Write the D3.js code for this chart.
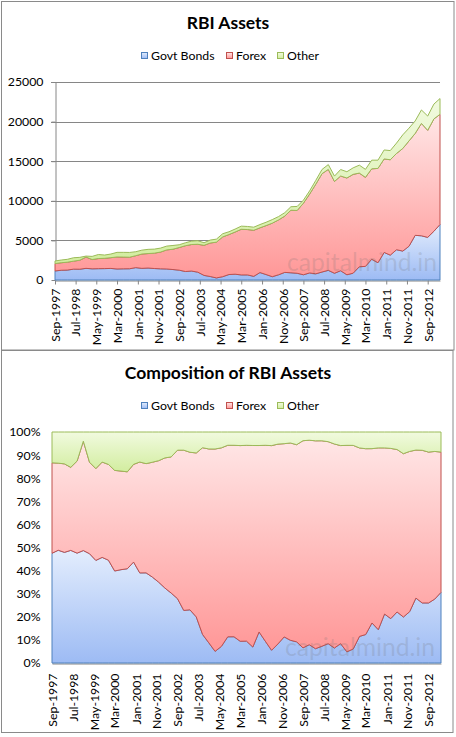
<!DOCTYPE html>
<html><head><meta charset="utf-8">
<script src="https://cdn.jsdelivr.net/npm/d3@7"></script>
<style>body{margin:0;background:#fff}svg{display:block}text{font-family:Lato,"Noto Sans",sans-serif}</style>
</head><body><svg id="c" width="456" height="737"></svg>
<script>
// ---------- DATA (quarterly, Rs billion) ----------
const quarters = ["Sep-1997","Dec-1997","Mar-1998","Jun-1998","Sep-1998","Dec-1998","Mar-1999","Jun-1999","Sep-1999","Dec-1999",
"Mar-2000","Jun-2000","Sep-2000","Dec-2000","Mar-2001","Jun-2001","Sep-2001","Dec-2001","Mar-2002","Jun-2002",
"Sep-2002","Dec-2002","Mar-2003","Jun-2003","Sep-2003","Dec-2003","Mar-2004","Jun-2004","Sep-2004","Dec-2004",
"Mar-2005","Jun-2005","Sep-2005","Dec-2005","Mar-2006","Jun-2006","Sep-2006","Dec-2006","Mar-2007","Jun-2007",
"Sep-2007","Dec-2007","Mar-2008","Jun-2008","Sep-2008","Dec-2008","Mar-2009","Jun-2009","Sep-2009","Dec-2009",
"Mar-2010","Jun-2010","Sep-2010","Dec-2010","Mar-2011","Jun-2011","Sep-2011","Dec-2011","Mar-2012","Jun-2012",
"Sep-2012","Dec-2012","Mar-2013"];
const govtBonds = [1140,1230,1250,1370,1360,1470,1410,1430,1440,1460,
1390,1410,1420,1560,1470,1510,1450,1410,1390,1320,
1240,1070,1130,990,580,440,260,420,690,730,
640,640,460,940,690,420,660,960,910,850,
660,890,780,1010,1220,850,1170,660,860,1670,
1720,2620,2180,3480,3140,3820,3650,4260,5640,5580,
5380,6150,7010];
const forex = [940,950,1000,1010,1140,1430,1180,1280,1300,1360,
1520,1490,1460,1510,1810,1830,1940,2120,2410,2570,
2860,3260,3350,3520,3800,4230,4520,5020,5050,5330,
5760,5730,5820,5650,6180,6760,6930,7110,7900,7930,
9040,9960,11320,12420,12740,11590,11960,12220,12480,11830,
11240,11420,11910,11810,12040,12160,12960,13300,12870,14190,
13520,14190,13910];
const other = [320,340,360,430,360,120,390,510,410,460,
580,590,600,500,490,530,510,500,480,470,
350,370,430,450,320,370,380,400,350,370,
400,390,390,410,420,450,420,430,440,510,
380,400,480,530,610,680,820,790,820,1000,
1010,1090,1040,1130,1160,1310,1720,1610,1570,1700,
1800,1870,1990];
const seriesNames = ["Govt Bonds","Forex","Other"];
const xTickLabels = ["Sep-1997","Jul-1998","May-1999","Mar-2000","Jan-2001","Nov-2001","Sep-2002","Jul-2003","May-2004","Mar-2005",
"Jan-2006","Nov-2006","Sep-2007","Jul-2008","May-2009","Mar-2010","Jan-2011","Nov-2011","Sep-2012"];
const yTicksTop = [0,5000,10000,15000,20000,25000];
const yTicksBottom = [0,0.1,0.2,0.3,0.4,0.5,0.6,0.7,0.8,0.9,1];

// ---------- SETUP ----------
const parse = d3.timeParse("%b-%Y");
const keys = ["govt","forex","other"];
const rows = quarters.map((q,i)=>({date:parse(q), govt:govtBonds[i], forex:forex[i], other:other[i]}));
const colors = {
  govt:{stroke:"#4f81bd", top:"#e3edfd", bot:"#9dbbf4"},
  forex:{stroke:"#c0504d", top:"#ffe6e6", bot:"#ff9797"},
  other:{stroke:"#9bbb59", top:"#f1fadf", bot:"#d2ed9f"}
};
const svg = d3.select("#c");
const defs = svg.append("defs");
keys.forEach(k=>{
  const g = defs.append("linearGradient").attr("id","grad-"+k).attr("x1",0).attr("y1",0).attr("x2",0).attr("y2",1);
  g.append("stop").attr("offset","0%").attr("stop-color",colors[k].top);
  g.append("stop").attr("offset","100%").attr("stop-color",colors[k].bot);
});

// chart frames
svg.append("rect").attr("x",1.5).attr("y",1.5).attr("width",452.5).attr("height",348.5).attr("fill","#fff").attr("stroke","#8a8a8a");
svg.append("rect").attr("x",1.5).attr("y",350.5).attr("width",451.5).attr("height",382).attr("fill","#fff").attr("stroke","#8a8a8a");

function legend(y){
  const lx = [141,226,277];
  keys.forEach((k,i)=>{
    svg.append("rect").attr("x",lx[i]+0.5).attr("y",y-3.5).attr("width",6).attr("height",6)
      .attr("fill","url(#grad-"+k+")").attr("stroke",colors[k].stroke);
    svg.append("text").attr("x",lx[i]+10).attr("y",y+4).attr("font-size",12.3).attr("fill","#000").text(seriesNames[i]);
  });
}
function title(t,y){
  svg.append("text").attr("x",228).attr("y",y).attr("text-anchor","middle").attr("font-size",17.5)
    .attr("font-weight","bold").attr("fill","#000").text(t);
}
function watermark(x,y){
  svg.append("text").attr("x",x).attr("y",y).attr("font-size",25).attr("fill","#6e6e6e").attr("fill-opacity",0.2)
    .attr("textLength",150).attr("lengthAdjust","spacingAndGlyphs").text("capitalmind.in");
}

function panel(opt){
  const {x0,x1,y0,y1} = opt;
  const x = d3.scaleTime().domain([rows[0].date, rows[rows.length-1].date]).range([x0,x1]);
  const y = d3.scaleLinear().domain(opt.domain).range([y1,y0]);
  const stack = d3.stack().keys(keys);
  if(opt.expand) stack.offset(d3.stackOffsetExpand);
  const series = stack(rows);
  const g = svg.append("g");
  if(opt.grid){
    g.selectAll(".grid").data(opt.yTicks.filter(v=>v>0)).join("line")
      .attr("x1",x0-4).attr("x2",x1).attr("y1",d=>Math.round(y(d))+0.5).attr("y2",d=>Math.round(y(d))+0.5)
      .attr("stroke","#868686");
  }
  const ya = d3.axisLeft(y).tickValues(opt.yTicks).tickFormat(opt.fmt)
    .tickSizeInner(opt.grid?4:0).tickSizeOuter(0).tickPadding(opt.grid?8:12);
  const yg = svg.append("g").attr("transform",`translate(${x0+0.5},0)`).call(ya);
  yg.select(".domain").attr("stroke","#868686");
  yg.selectAll(".tick line").attr("stroke","#868686");
  yg.selectAll("text").attr("font-family","Lato").attr("font-size",12.3).attr("fill","#000");
  const tickDates = xTickLabels.map(parse);
  const xa = d3.axisBottom(x).tickValues(tickDates).tickFormat(d3.timeFormat("%b-%Y"))
    .tickSizeInner(opt.grid?4:0).tickSizeOuter(0).tickPadding(0);
  const xg = svg.append("g").attr("transform",`translate(0,${y1+0.5})`).call(xa);
  xg.select(".domain").attr("stroke","#868686");
  xg.selectAll(".tick line").attr("stroke","#868686");
  xg.selectAll("text").attr("font-family","Lato").attr("font-size",12.3).attr("fill","#000")
    .attr("text-anchor","end").attr("transform","rotate(-90)")
    .attr("x",-opt.xlabGap).attr("y",0).attr("dy","0.35em");
  const area = d3.area().x(d=>x(d.data.date)).y0(d=>y(d[0])).y1(d=>y(d[1]));
  const ag = svg.append("g");
  ag.selectAll("path").data(series).join("path")
    .attr("d",area)
    .attr("fill",s=>"url(#grad-"+s.key+")")
    .attr("stroke",s=>colors[s.key].stroke).attr("stroke-width",1).attr("stroke-linejoin","round");
  watermark(opt.wm[0],opt.wm[1]);
}

title("RBI Assets",29);
legend(56);
panel({x0:55,x1:440,y0:82,y1:280,domain:[0,25000],yTicks:yTicksTop,fmt:d3.format("d"),grid:true,expand:false,xlabGap:8,wm:[287,271]});

title("Composition of RBI Assets",379);
legend(406);
panel({x0:52,x1:441,y0:432,y1:663,domain:[0,1],yTicks:yTicksBottom,fmt:d3.format(".0%"),grid:false,expand:true,xlabGap:10,wm:[285,656]});
</script></body></html>
